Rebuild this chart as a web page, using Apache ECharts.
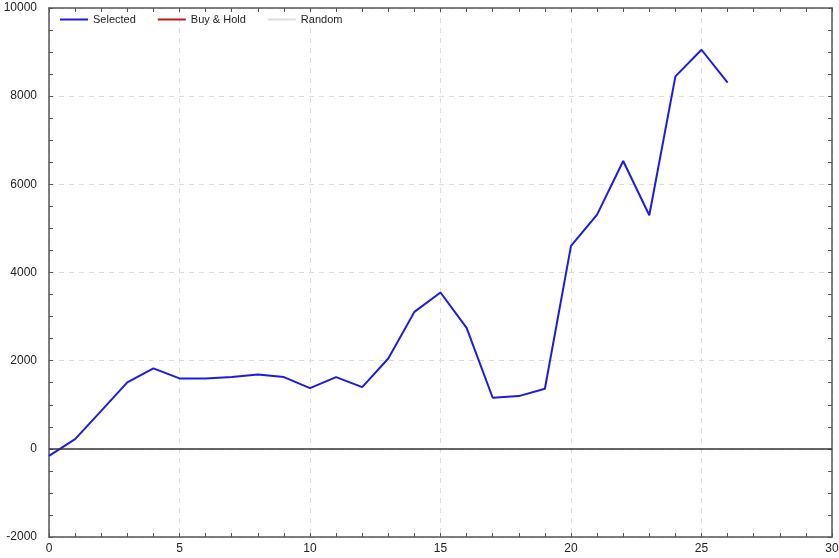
<!DOCTYPE html>
<html><head><meta charset="utf-8">
<script src="https://cdn.jsdelivr.net/npm/echarts@6/dist/echarts.min.js"></script>
<style>html,body{margin:0;padding:0;background:#fff}#c{width:839px;height:558px}</style>
</head><body><div id="c"></div>
<script>
const xValues = [0,1,2,3,4,5,6,7,8,9,10,11,12,13,14,15,16,17,18,19,20,21,22,23,24,25,26];
const selected = [-160,220,860,1507,1824,1598,1598,1627,1688,1627,1378,1627,1400,2050,3107,3546,2745,1159,1196,1362,4603,5314,6530,5299,8449,9053,8306];
const buyHold = [];
const randomS = [];
const seriesNames = ['Selected','Buy & Hold','Random'];

const chart = echarts.init(document.getElementById('c'));
const axisColor = '#555';
const font = 'Liberation Sans, Arial, sans-serif';
const baseX = {
  type:'value', min:0, max:30, interval:5,
  axisLine:{show:true,onZero:false,lineStyle:{color:axisColor,width:1.5}},
  axisTick:{show:true,inside:true,length:4,lineStyle:{color:axisColor}},
  minorTick:{show:true,splitNumber:5,length:4,lineStyle:{color:axisColor}},
  splitLine:{show:false}
};
const baseY = {
  type:'value', min:-2000, max:10000, interval:2000,
  axisLine:{show:true,onZero:false,lineStyle:{color:axisColor,width:1.5}},
  axisTick:{show:true,inside:true,length:4,lineStyle:{color:axisColor}},
  minorTick:{show:true,splitNumber:4,length:4,lineStyle:{color:axisColor}},
  splitLine:{show:false}
};
chart.setOption({
  animation:false,
  backgroundColor:'#fff',
  grid:{left:49,right:7,top:8,bottom:21,containLabel:false,outerBoundsMode:'none'},
  legend:{
    left:55, top:9, itemWidth:28, itemHeight:10, itemGap:22,
    icon:'path://M0,4 L28,4 L28,6 L0,6 Z',
    textStyle:{fontFamily:font,fontSize:11,color:'#222'},
    data:seriesNames
  },
  xAxis:[
    Object.assign({}, baseX, {position:'bottom',
      splitLine:{show:true,lineStyle:{color:'#ddd',type:[5,5]}},
      axisLabel:{color:'#222',fontSize:12,fontFamily:font,margin:6,
        formatter:v=>String(v),showMinLabel:true,showMaxLabel:true}}),
    Object.assign({}, baseX, {position:'top',axisLabel:{show:false}})
  ],
  yAxis:[
    Object.assign({}, baseY, {position:'left',
      splitLine:{show:true,lineStyle:{color:'#ddd',type:[5,5]}},
      axisLabel:{color:'#222',fontSize:12,fontFamily:font,margin:12,formatter:v=>String(v)}}),
    Object.assign({}, baseY, {position:'right',axisLabel:{show:false}})
  ],
  series:[
    {name:seriesNames[0],type:'line',xAxisIndex:0,yAxisIndex:0,
     data:xValues.map((x,i)=>[x,selected[i]]),
     showSymbol:false,lineStyle:{color:'#1c1ce0',width:2},itemStyle:{color:'#1c1ce0'},
     markLine:{silent:true,symbol:'none',label:{show:false},
       lineStyle:{color:'#333',type:'solid',width:1.5},data:[{yAxis:0}]}},
    {name:seriesNames[1],type:'line',data:buyHold,showSymbol:false,
     lineStyle:{color:'#c01818',width:2},itemStyle:{color:'#c01818'}},
    {name:seriesNames[2],type:'line',data:randomS,showSymbol:false,
     lineStyle:{color:'#dddddd',width:2},itemStyle:{color:'#dddddd'}}
  ]
});
</script></body></html>
